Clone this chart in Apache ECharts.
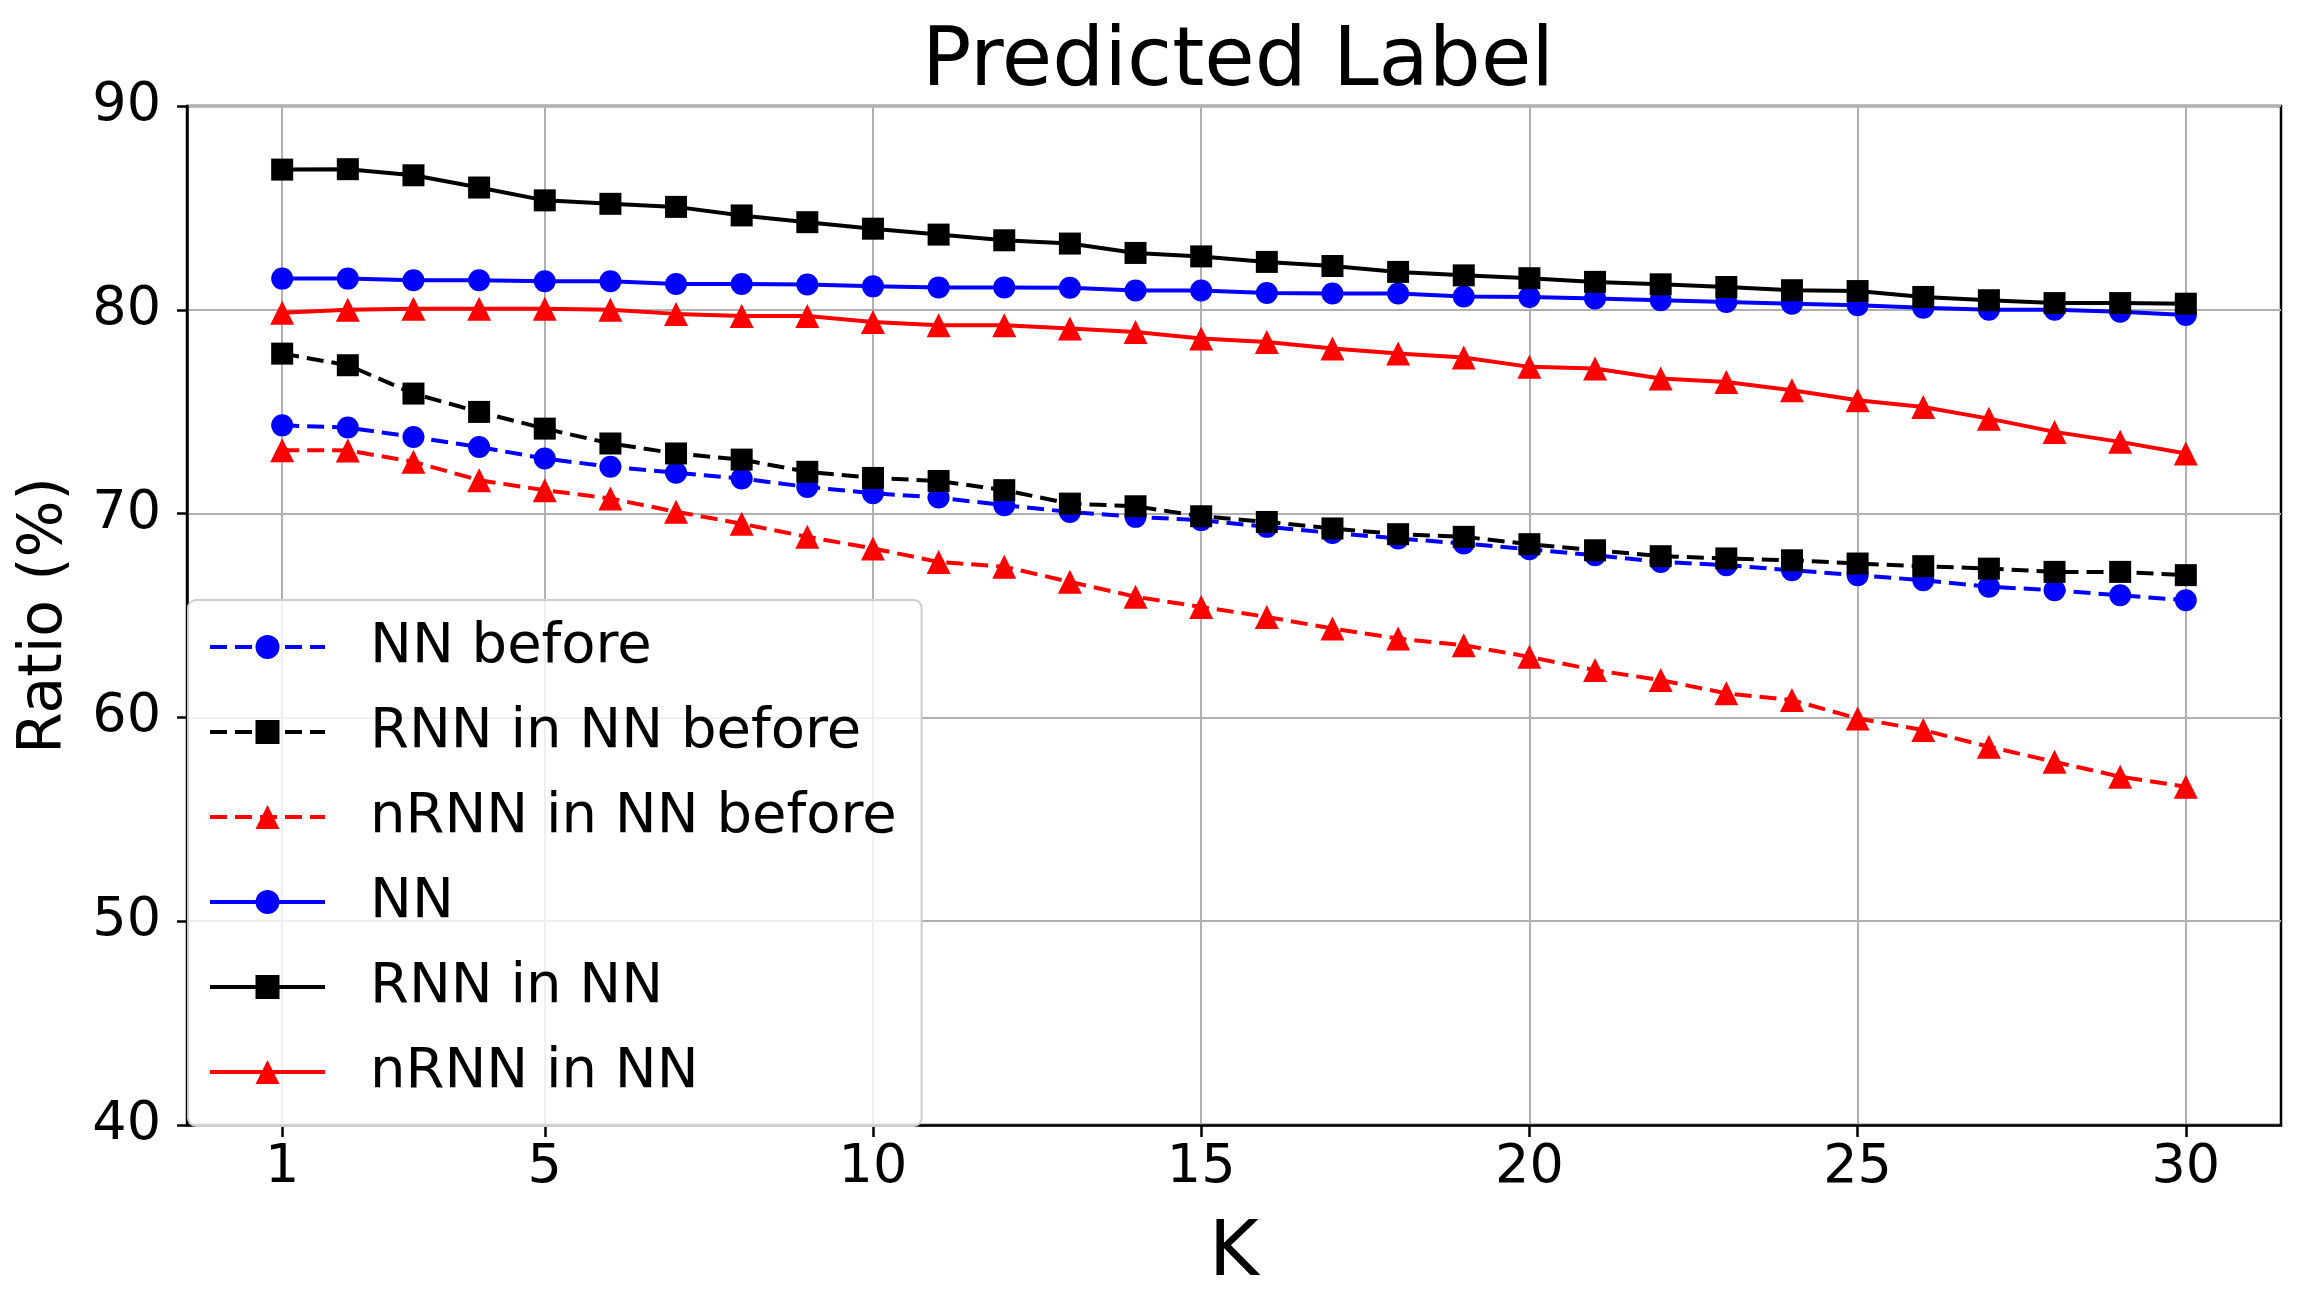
<!DOCTYPE html>
<html>
<head>
<meta charset="utf-8">
<script src="https://cdn.jsdelivr.net/npm/echarts@6/dist/echarts.min.js"></script>
<style>
html,body{margin:0;padding:0;background:#fff;}
#chart{width:2300px;height:1310px;}
</style>
</head>
<body>
<div id="chart"></div>
<script>
const K = [1,2,3,4,5,6,7,8,9,10,11,12,13,14,15,16,17,18,19,20,21,22,23,24,25,26,27,28,29,30];
const xTicks = [1,5,10,15,20,25,30];

const nnBefore = [74.33,74.22,73.76,73.27,72.70,72.30,72.00,71.72,71.31,71.00,70.79,70.41,70.08,69.84,69.68,69.35,69.05,68.78,68.53,68.25,67.96,67.63,67.47,67.22,66.98,66.73,66.41,66.24,65.99,65.75];
const rnnBefore = [77.85,77.28,75.89,74.99,74.17,73.44,72.95,72.65,72.05,71.75,71.60,71.15,70.49,70.36,69.87,69.59,69.27,68.99,68.86,68.50,68.20,67.91,67.80,67.71,67.55,67.42,67.30,67.14,67.14,66.98];
const nrnnBefore = [73.11,73.10,72.54,71.64,71.15,70.74,70.09,69.50,68.86,68.29,67.63,67.39,66.65,65.92,65.42,64.93,64.36,63.87,63.54,62.97,62.32,61.83,61.18,60.85,59.95,59.38,58.56,57.82,57.09,56.60];
const nn = [81.53,81.53,81.45,81.45,81.40,81.40,81.27,81.27,81.24,81.15,81.10,81.10,81.08,80.95,80.95,80.82,80.80,80.80,80.65,80.63,80.55,80.47,80.38,80.30,80.22,80.10,80.00,80.00,79.90,79.75];
const rnn = [86.88,86.90,86.60,86.00,85.37,85.20,85.05,84.63,84.30,83.98,83.69,83.41,83.25,82.79,82.62,82.35,82.15,81.86,81.69,81.55,81.37,81.25,81.12,80.96,80.92,80.63,80.47,80.33,80.33,80.30];
const nrnn = [79.86,80.00,80.05,80.05,80.05,80.00,79.80,79.70,79.70,79.40,79.24,79.24,79.08,78.91,78.59,78.42,78.10,77.85,77.66,77.20,77.12,76.63,76.46,76.05,75.56,75.23,74.66,74.01,73.52,72.95];

const DASH = [17,8];
const seriesDefs = [
  {name:'NN before', data:nnBefore, color:'#0000ff', type:DASH, symbol:'circle'},
  {name:'RNN in NN before', data:rnnBefore, color:'#000000', type:DASH, symbol:'rect'},
  {name:'nRNN in NN before', data:nrnnBefore, color:'#ff0000', type:DASH, symbol:'triangle'},
  {name:'NN', data:nn, color:'#0000ff', type:'solid', symbol:'circle'},
  {name:'RNN in NN', data:rnn, color:'#000000', type:'solid', symbol:'rect'},
  {name:'nRNN in NN', data:nrnn, color:'#ff0000', type:'solid', symbol:'triangle'}
];

const FONT = 'DejaVu Sans';
const chart = echarts.init(document.getElementById('chart'), null, {renderer:'canvas'});

const option = {
  backgroundColor:'#ffffff',
  animation:false,
  title:{
    text:'Predicted Label',
    left:1233, top:18, textAlign:'center',
    textStyle:{fontFamily:FONT, fontSize:82, fontWeight:'normal', color:'#000'}
  },
  grid:{left:187, right:19, top:106, bottom:185, show:true, borderColor:'#000', borderWidth:2.5, backgroundColor:'transparent'},
  xAxis:{
    type:'value', min:-0.45, max:31.45,
    name:'K', nameLocation:'middle', nameGap:92,
    nameTextStyle:{fontFamily:FONT, fontSize:76, color:'#000'},
    axisLine:{show:true, onZero:false, lineStyle:{color:'#000', width:2.5}},
    axisTick:{show:true, customValues:xTicks, length:12, lineStyle:{color:'#000', width:2.5}},
    axisLabel:{customValues:xTicks, margin:16, fontFamily:FONT, fontSize:54, color:'#000'},
    splitLine:{show:true, lineStyle:{color:'#b0b0b0', width:2}}
  },
  yAxis:{
    type:'value', min:40, max:90, interval:10,
    name:'Ratio (%)', nameLocation:'middle', nameGap:112,
    nameTextStyle:{fontFamily:FONT, fontSize:60, color:'#000'},
    axisLine:{show:true, onZero:false, lineStyle:{color:'#000', width:2.5}},
    axisTick:{show:true, length:10, lineStyle:{color:'#000', width:2.5}},
    axisLabel:{margin:26, fontFamily:FONT, fontSize:54, color:'#000'},
    splitLine:{show:true, lineStyle:{color:'#b0b0b0', width:2}}
  },
  legend:{
    orient:'vertical', left:188, top:600,
    padding:[17,25,24,20],
    itemGap:25, itemWidth:115, itemHeight:30,
    backgroundColor:'rgba(255,255,255,0.8)',
    borderColor:'#cccccc', borderWidth:2, borderRadius:8,
    lineStyle:{width:4},
    textStyle:{fontFamily:FONT, fontSize:56, color:'#000', lineHeight:60, padding:[0,0,0,40]},
    data:seriesDefs.map(s=>s.name)
  },
  series:seriesDefs.map(s=>({
    name:s.name, type:'line',
    data:K.map((k,i)=>[k, s.data[i]]),
    symbol:s.symbol, symbolSize:s.symbol==='triangle'?24:22,
    showAllSymbol:true,
    lineStyle:{color:s.color, width:4, type:s.type},
    itemStyle:{color:s.color},
    emphasis:{disabled:true}
  }))
};
chart.setOption(option);
</script>
</body>
</html>
